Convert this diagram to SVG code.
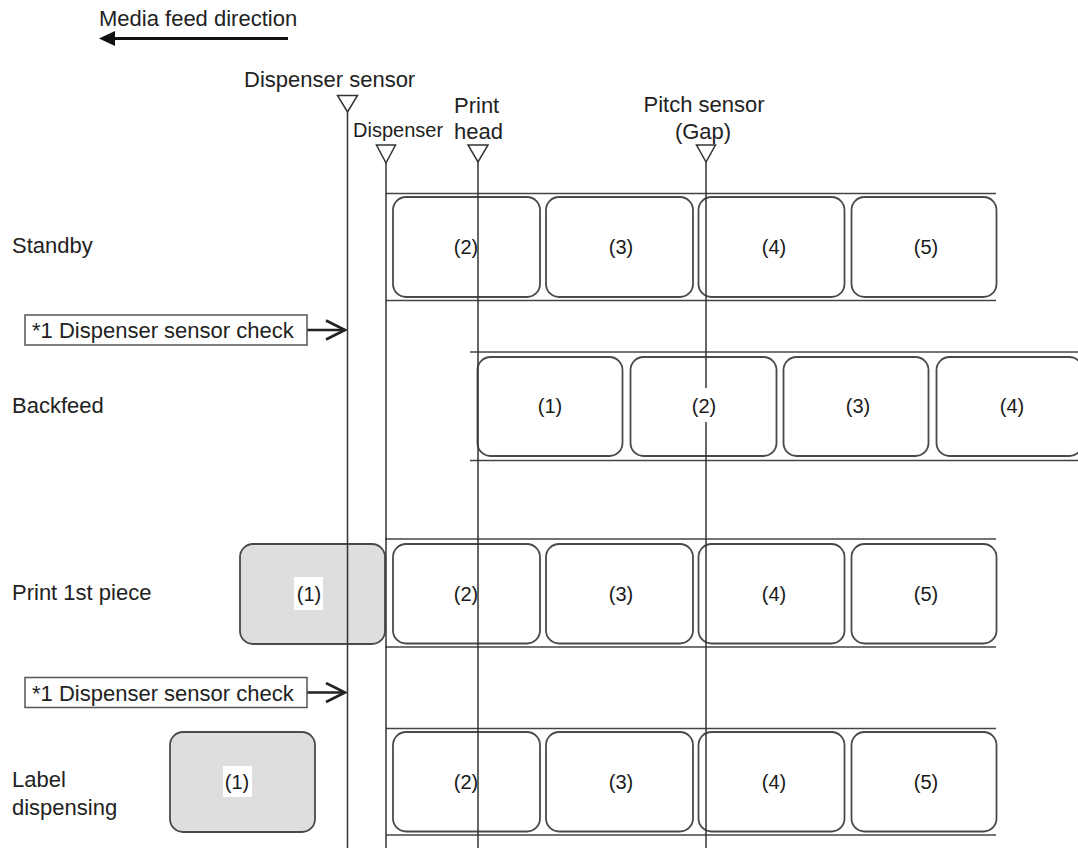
<svg xmlns="http://www.w3.org/2000/svg" width="1078" height="848" viewBox="0 0 1078 848">
<defs>
<style>
text{font-family:"Liberation Sans",Arial,sans-serif;fill:#222}
.t{font-size:22px}
.s{font-size:20px}
.lbl{font-size:20px;text-anchor:middle;fill:#1a1a1a}
.band{stroke:#444;stroke-width:1.7;fill:none}
.box{fill:#fff;stroke:#4a4a4a;stroke-width:1.8}
.gbox{fill:#dedede;stroke:#4a4a4a;stroke-width:1.8}
.v{stroke:#333;stroke-width:1.5;fill:none}
.tri{fill:#fff;stroke:#333;stroke-width:1.5}
.chk{fill:#fff;stroke:#555;stroke-width:1.5}
.wb{fill:#fff}
.ar{stroke:#222;stroke-width:2.5;fill:none}
</style>
<marker id="open" viewBox="0 0 22 22" refX="20" refY="11" markerWidth="22" markerHeight="22" markerUnits="userSpaceOnUse" orient="auto">
<path d="M1,1.5 L20,11 L1,20.5" fill="none" stroke="#222" stroke-width="2.6"/>
</marker>
</defs>
<rect width="1078" height="848" fill="#fff"/>

<g id="feed-direction">
<text class="t" x="99" y="26">Media feed direction</text>
<line x1="113" y1="38.5" x2="288" y2="38.5" stroke="#111" stroke-width="3"/>
<path d="M99,38.5 L115,31 L115,46 Z" fill="#111"/>
</g>

<g id="row-labels">
<text class="t" x="12" y="253">Standby</text>
<text class="t" x="12" y="413">Backfeed</text>
<text class="t" x="12" y="600">Print 1st piece</text>
<text class="t" x="12" y="787">Label</text>
<text class="t" x="12" y="815">dispensing</text>
</g>

<g id="standby">
<line class="band" x1="386" y1="193.5" x2="996" y2="193.5"/>
<line class="band" x1="386" y1="300.5" x2="996" y2="300.5"/>
<rect class="box" x="393" y="197" width="147" height="100" rx="13"/>
<rect class="box" x="546" y="197" width="147" height="100" rx="13"/>
<rect class="box" x="698.5" y="197" width="146" height="100" rx="13"/>
<rect class="box" x="851.5" y="197" width="145" height="100" rx="13"/>
</g>

<g id="backfeed">
<line class="band" x1="470" y1="352" x2="1078" y2="352"/>
<line class="band" x1="470" y1="460.5" x2="1078" y2="460.5"/>
<rect class="box" x="477.5" y="357" width="145" height="99" rx="13"/>
<rect class="box" x="630.5" y="357" width="146" height="99" rx="13"/>
<rect class="box" x="783.5" y="357" width="145" height="99" rx="13"/>
<rect class="box" x="936.5" y="357" width="146" height="99" rx="13"/>
</g>

<g id="print-1st">
<line class="band" x1="385" y1="539" x2="996" y2="539"/>
<line class="band" x1="385" y1="647" x2="996" y2="647"/>
<rect class="gbox" x="240" y="544" width="145" height="100" rx="13"/>
<rect class="box" x="393" y="544" width="147" height="99.5" rx="13"/>
<rect class="box" x="546" y="544" width="147" height="99.5" rx="13"/>
<rect class="box" x="698.5" y="544" width="146" height="99.5" rx="13"/>
<rect class="box" x="851.5" y="544" width="145" height="99.5" rx="13"/>
</g>

<g id="label-dispensing">
<line class="band" x1="386" y1="728.5" x2="996" y2="728.5"/>
<line class="band" x1="386" y1="835" x2="996" y2="835"/>
<rect class="gbox" x="170" y="732" width="145" height="100" rx="13"/>
<rect class="box" x="393" y="732" width="147" height="99.5" rx="13"/>
<rect class="box" x="546" y="732" width="147" height="99.5" rx="13"/>
<rect class="box" x="698.5" y="732" width="146" height="99.5" rx="13"/>
<rect class="box" x="851.5" y="732" width="145" height="99.5" rx="13"/>
</g>

<g id="box-labels-plain">
<text class="lbl" x="466" y="254">(2)</text>
<text class="lbl" x="621" y="254">(3)</text>
<text class="lbl" x="774" y="254">(4)</text>
<text class="lbl" x="926" y="254">(5)</text>
<text class="lbl" x="550" y="413">(1)</text>
<text class="lbl" x="858" y="413">(3)</text>
<text class="lbl" x="1012" y="413">(4)</text>
<text class="lbl" x="466" y="601">(2)</text>
<text class="lbl" x="621" y="601">(3)</text>
<text class="lbl" x="774" y="601">(4)</text>
<text class="lbl" x="926" y="601">(5)</text>
<text class="lbl" x="466" y="789">(2)</text>
<text class="lbl" x="621" y="789">(3)</text>
<text class="lbl" x="774" y="789">(4)</text>
<text class="lbl" x="926" y="789">(5)</text>
</g>

<g id="connectors">
<line class="v" x1="347.5" y1="112" x2="347.5" y2="848"/>
<line class="v" x1="386" y1="163" x2="386" y2="848"/>
<line class="v" x1="478" y1="162" x2="478" y2="848"/>
<line class="v" x1="706" y1="162" x2="706" y2="848"/>
<line class="ar" x1="307" y1="330" x2="345" y2="330" marker-end="url(#open)"/>
<line class="ar" x1="307" y1="692.5" x2="345" y2="692.5" marker-end="url(#open)"/>
</g>

<g id="box-labels-masked">
<rect class="wb" x="692" y="388" width="28" height="34"/>
<text class="lbl" x="704" y="413">(2)</text>
<rect class="wb" x="294" y="577" width="29" height="33"/>
<text class="lbl" x="309" y="601">(1)</text>
<rect class="wb" x="223" y="766" width="29" height="31"/>
<text class="lbl" x="237" y="789">(1)</text>
</g>

<g id="sensor-dispenser">
<polygon class="tri" points="337.5,95.5 357.5,95.5 347.5,112"/>
<text class="t" x="244" y="87">Dispenser sensor</text>
</g>
<g id="sensor-dispenser-edge">
<polygon class="tri" points="376.5,145 395.5,145 386,163"/>
<text class="s" x="353" y="137">Dispenser</text>
</g>
<g id="sensor-print-head">
<polygon class="tri" points="468,145 488,145 478,162"/>
<text class="t" x="454" y="113">Print</text>
<text class="t" x="454" y="139">head</text>
</g>
<g id="sensor-pitch">
<polygon class="tri" points="696.5,145 715.5,145 706,162"/>
<text class="t" x="704" y="112" text-anchor="middle">Pitch sensor</text>
<text class="t" x="703" y="139" text-anchor="middle">(Gap)</text>
</g>

<g id="check-1">
<rect class="chk" x="25" y="315" width="282" height="30"/>
<text class="t" x="32" y="338">*1 Dispenser sensor check</text>
</g>
<g id="check-2">
<rect class="chk" x="25" y="677.5" width="282" height="30"/>
<text class="t" x="32" y="700.5">*1 Dispenser sensor check</text>
</g>
</svg>
